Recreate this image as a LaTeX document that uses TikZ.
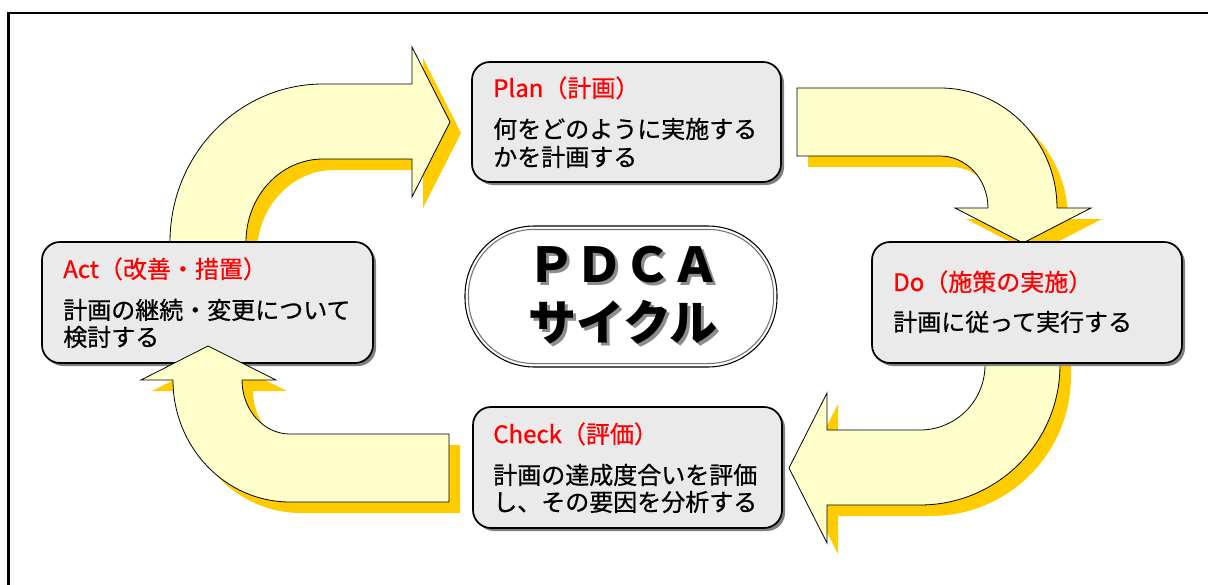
\documentclass[tikz,border=0pt]{standalone}
\usepackage{fontspec}
\setmainfont{Noto Sans CJK JP}
\newfontfamily\jpmid{Noto Sans CJK JP}[FakeBold=0.7]
\usetikzlibrary{shadows,calc}
\definecolor{arrowyellow}{HTML}{FFFFCC}
\definecolor{shadowgold}{HTML}{FFCC00}
\definecolor{boxgray}{HTML}{EAEAEA}
\definecolor{headred}{HTML}{FF0000}
\newcommand\pathTL{(170,290) -- (170,242) arc[start angle=180, end angle=270, x radius=153, y radius=158] -- (412,84) -- (412,47) -- (450,122) -- (412,197) -- (412,159) -- (323,159) arc[start angle=270, end angle=180, x radius=77, y radius=83] -- (246,290) -- cycle}
\newcommand\pathTR{(797,88) -- (940,88) arc[start angle=270, end angle=360, x radius=117, y radius=120] -- (1091,208) -- (1023,243) -- (955,208) -- (988,208) arc[start angle=0, end angle=-90, x radius=48, y radius=52] -- (797,156) -- cycle}
\newcommand\pathBR{(1060,320) -- (1060,365) arc[start angle=0, end angle=90, x radius=140, y radius=140] -- (827,505) -- (827,543) -- (789,468) -- (827,393) -- (827,430) -- (920,430) arc[start angle=90, end angle=0, x radius=65, y radius=65] -- (985,320) -- cycle}
\newcommand\pathBL{(449,434) -- (290,434) arc[start angle=90, end angle=180, x radius=48, y radius=54] -- (276,380) -- (208,346) -- (141,380) -- (173,380) arc[start angle=180, end angle=90, x radius=117, y radius=122] -- (449,502) -- cycle}
\newcommand\shadowtext[1]{\rlap{\kern2.25pt\raisebox{-2.25pt}{\textcolor{black!45}{#1}}}#1}
\tikzset{
  arrowbody/.style={fill=arrowyellow, draw=black, line width=0.6pt, line join=miter},
  arrowshade/.style={fill=shadowgold, shift={(11,11)}},
  pdcabox/.style={draw=black, line width=1.3pt, fill=boxgray, rounded corners=13.5pt, inner sep=0pt,
    drop shadow={shadow xshift=2.25pt, shadow yshift=-2.25pt, fill=black!50, opacity=1}},
  headtext/.style={anchor=base west, inner sep=0pt, text=headred, font=\jpmid\fontsize{18pt}{21pt}\selectfont},
  bodytext/.style={anchor=base west, inner sep=0pt, text=black, font=\jpmid\fontsize{18pt}{21pt}\selectfont},
  bigtext/.style={inner sep=0pt, font=\fontsize{36pt}{40pt}\selectfont\bfseries},
}
\begin{document}
\begin{tikzpicture}[x=0.75pt,y=-0.75pt]
\useasboundingbox (0,0) rectangle (1208,585);
\clip (0,0) rectangle (1208,585);
% frame
\coordinate (fbl) at (8.5,600);
\coordinate (ftl) at (8.5,13);
\coordinate (ftr) at (1230,13);
\draw[line width=1.6pt] (fbl) -- (ftl) -- (ftr);
% arrows behind boxes
\fill[arrowshade] \pathTL;
\fill[arrowshade] \pathTR;
\fill[arrowshade] \pathBR;
\fill[arrowshade] \pathBL;
\draw[arrowbody] \pathTL;
\draw[arrowbody] \pathTR;
\draw[arrowbody] \pathBR;
% boxes
\node[pdcabox, minimum width=231.75pt, minimum height=90pt] (plan) at (626.5,122) {};
\node[pdcabox, minimum width=248.25pt, minimum height=90.75pt] (act) at (207.5,302.5) {};
\node[pdcabox, minimum width=232.5pt, minimum height=90.75pt] (do) at (1027,302.5) {};
\node[pdcabox, minimum width=231.75pt, minimum height=90.75pt] (check) at (627.5,467.5) {};
% arrow over Act box
\draw[arrowbody] \pathBL;
% texts
\node[headtext] (planh) at (493,97) {Plan（計画）};
\node[bodytext] (planb1) at (493,138) {何をどのように実施する};
\node[bodytext] (planb2) at (493,166) {かを計画する};
\node[headtext] (acth) at (63,278) {Act（改善・措置）};
\node[bodytext] (actb1) at (63,319) {計画の継続・変更について};
\node[bodytext] (actb2) at (63,346) {検討する};
\node[headtext] (doh) at (893,291) {Do（施策の実施）};
\node[bodytext] (dob1) at (893,331) {計画に従って実行する};
\node[headtext] (checkh) at (493,443) {Check（評価）};
\node[bodytext] (checkb1) at (493,484) {計画の達成度合いを評価};
\node[bodytext] (checkb2) at (493,511) {し、その要因を分析する};
% center
\node[draw=black, line width=0.8pt, fill=white, rounded corners=52pt, minimum width=234pt, minimum height=105.75pt] (pdca) at (621,296.5) {};
\draw[black!55, line width=0.8pt, rounded corners=49pt] ($(pdca.north west)+(4,4)$) rectangle ($(pdca.south east)+(-4,-4)$);
\node[bigtext, text=black] (pdca1) at (623,266) {\shadowtext{ＰＤＣＡ}};
\node[bigtext, text=black] (pdca2) at (623,324) {\shadowtext{サイクル}};
\end{tikzpicture}
\end{document}
